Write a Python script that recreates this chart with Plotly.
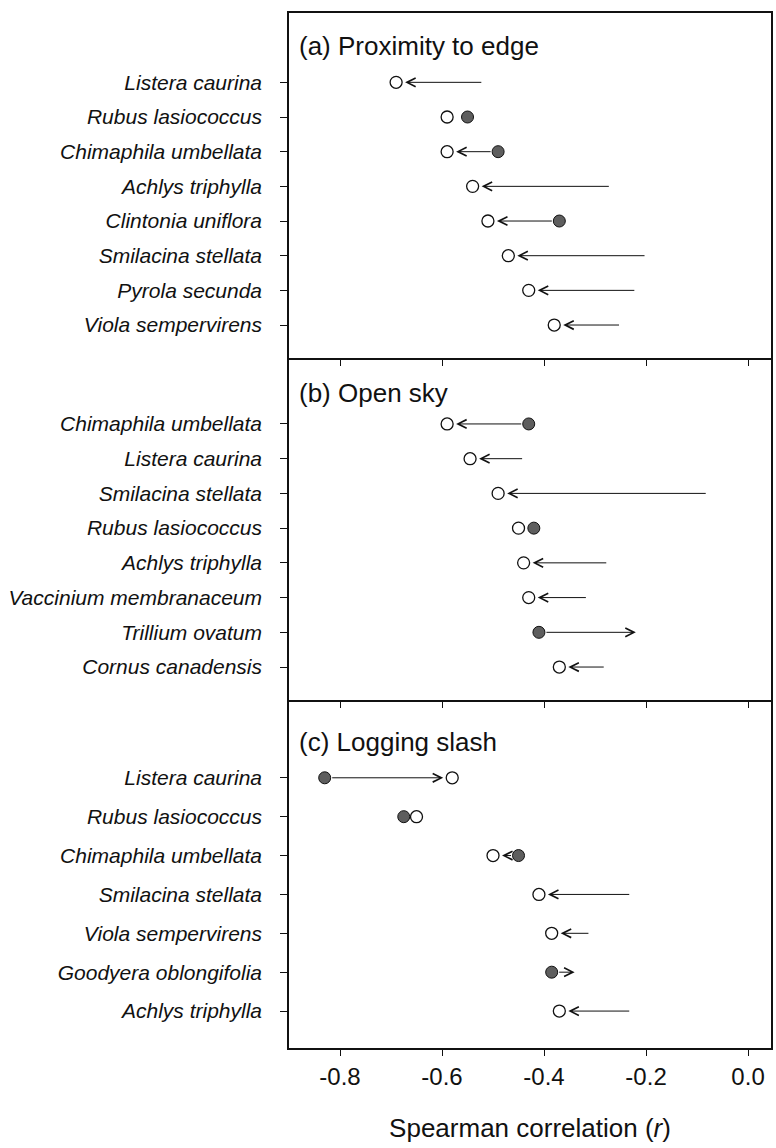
import plotly.graph_objects as go

# (a) Proximity to edge
a_species = ["Listera caurina", "Rubus lasiococcus", "Chimaphila umbellata", "Achlys triphylla",
             "Clintonia uniflora", "Smilacina stellata", "Pyrola secunda", "Viola sempervirens"]
a_from = [-0.52, -0.55, -0.49, -0.27, -0.37, -0.20, -0.22, -0.25]
a_to = [-0.69, -0.59, -0.59, -0.54, -0.51, -0.47, -0.43, -0.38]
a_from_sig = [False, True, True, False, True, False, False, False]
a_to_sig = [True, True, True, True, True, True, True, True]

# (b) Open sky
b_species = ["Chimaphila umbellata", "Listera caurina", "Smilacina stellata", "Rubus lasiococcus",
             "Achlys triphylla", "Vaccinium membranaceum", "Trillium ovatum", "Cornus canadensis"]
b_from = [-0.43, -0.44, -0.08, -0.42, -0.275, -0.315, -0.41, -0.28]
b_to = [-0.59, -0.545, -0.49, -0.45, -0.44, -0.43, -0.22, -0.37]
b_from_sig = [True, False, False, True, False, False, True, False]
b_to_sig = [True, True, True, True, True, True, False, True]

# (c) Logging slash
c_species = ["Listera caurina", "Rubus lasiococcus", "Chimaphila umbellata", "Smilacina stellata",
             "Viola sempervirens", "Goodyera oblongifolia", "Achlys triphylla"]
c_from = [-0.83, -0.675, -0.45, -0.23, -0.31, -0.385, -0.23]
c_to = [-0.58, -0.65, -0.50, -0.41, -0.385, -0.34, -0.37]
c_from_sig = [True, True, True, False, False, True, False]
c_to_sig = [True, True, True, True, True, False, True]

panel_titles = ["(a) Proximity to edge", "(b) Open sky", "(c) Logging slash"]
x_ticks = [-0.8, -0.6, -0.4, -0.2, 0.0]
x_tick_labels = ["-0.8", "-0.6", "-0.4", "-0.2", "0.0"]
x_title = "Spearman correlation (<i>r</i>)"

panels = [
    (a_species, a_from, a_to, a_from_sig, a_to_sig),
    (b_species, b_from, b_to, b_from_sig, b_to_sig),
    (c_species, c_from, c_to, c_from_sig, c_to_sig),
]

FONT = "Liberation Sans, Arial, Helvetica, sans-serif"
INK = "#111111"
domains = [[0.6667, 1.0], [0.3362, 0.6667], [0.0, 0.3362]]
y_tops = [-2.0, -1.9, -2.0]
title_shift = [-33, -35, -42]
MIN_GAP = 0.045  # circles this close are shown side by side without an arrow

fig = go.Figure()
annotations = []
layout = {}

for k, (species, r_from, r_to, from_sig, to_sig) in enumerate(panels):
    sfx = "" if k == 0 else str(k + 1)
    xr, yr = "x" + sfx, "y" + sfx
    n = len(species)
    rows = list(range(n))

    # arrows from the first to the second correlation
    for i in rows:
        if from_sig[i] and to_sig[i] and abs(r_to[i] - r_from[i]) < MIN_GAP:
            continue
        annotations.append(dict(
            x=r_to[i], y=i, ax=r_from[i], ay=i,
            xref=xr, yref=yr, axref=xr, ayref=yr,
            text="", showarrow=True, arrowhead=5, arrowsize=1.7, arrowwidth=1,
            arrowcolor=INK,
            standoff=9 if to_sig[i] else 0,
            startstandoff=6 if from_sig[i] else 0,
        ))

    # significant starting values: filled circles
    fx = [r_from[i] for i in rows if from_sig[i]]
    fy = [i for i in rows if from_sig[i]]
    fig.add_trace(go.Scatter(
        x=fx, y=fy, mode="markers", xaxis=xr, yaxis=yr, showlegend=False,
        marker=dict(symbol="circle", size=12, color="#5e5e5e",
                    line=dict(color=INK, width=1)),
    ))
    # significant end values: open circles
    ox = [r_to[i] for i in rows if to_sig[i]]
    oy = [i for i in rows if to_sig[i]]
    fig.add_trace(go.Scatter(
        x=ox, y=oy, mode="markers", xaxis=xr, yaxis=yr, showlegend=False,
        marker=dict(symbol="circle", size=12, color="white",
                    line=dict(color=INK, width=1.3)),
    ))

    annotations.append(dict(
        text=panel_titles[k], xref=xr + " domain", yref=yr + " domain",
        x=0, y=1, xanchor="left", yanchor="middle", xshift=8, yshift=title_shift[k],
        showarrow=False, font=dict(family=FONT, size=26, color=INK),
    ))

    last = k == len(panels) - 1
    # the top edge of panels (b) and (c) is the bottom line of the panel above
    layout["xaxis" + sfx] = dict(
        domain=[0, 1], anchor=yr, range=[-0.9, 0.045],
        tickmode="array", tickvals=x_ticks, ticktext=x_tick_labels,
        showticklabels=last, ticks="outside", ticklen=6, tickwidth=1.2,
        tickcolor=INK,
        showline=True, mirror=(k == 0), linecolor=INK, linewidth=1.5,
        showgrid=False, zeroline=False,
        tickfont=dict(family=FONT, size=24, color=INK),
        title=dict(text=x_title if last else "", standoff=30,
                   font=dict(family=FONT, size=26, color=INK)),
    )
    layout["yaxis" + sfx] = dict(
        domain=domains[k], anchor=xr, range=[n - 0.05, y_tops[k]],
        tickmode="array", tickvals=rows, ticktext=species,
        ticks="outside", ticklen=7, tickwidth=1.2, tickcolor=INK,
        ticklabelstandoff=14,
        showline=True, mirror=True, linecolor=INK, linewidth=1.5,
        showgrid=False, zeroline=False,
        tickfont=dict(family=FONT, size=21, color=INK, style="italic"),
    )

fig.update_layout(
    width=776, height=1148,
    margin=dict(l=289, r=3, t=13, b=100),
    paper_bgcolor="white", plot_bgcolor="white",
    annotations=annotations,
    **layout,
)

fig.write_html("out.html")
